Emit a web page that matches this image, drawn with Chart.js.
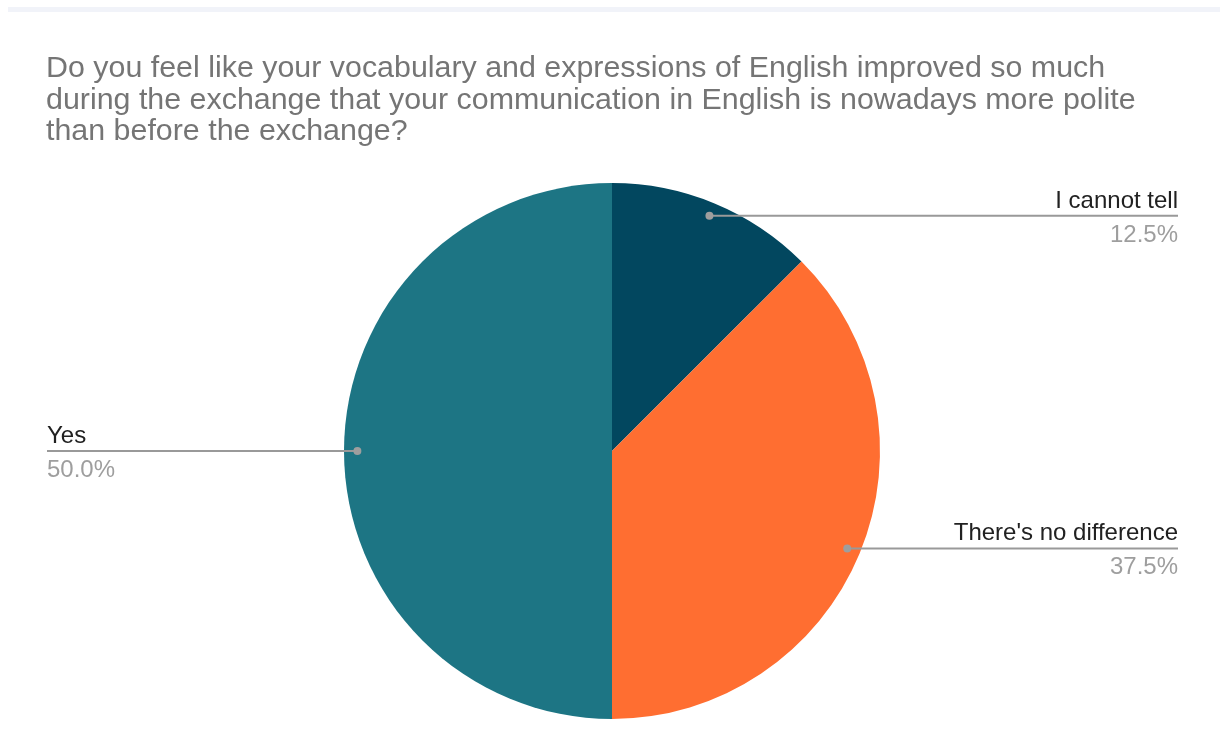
<!DOCTYPE html>
<html>
<head>
<meta charset="utf-8">
<script src="https://cdn.jsdelivr.net/npm/chart.js@4/dist/chart.umd.min.js"></script>
<style>
  html, body { margin: 0; padding: 0; background: #fff; }
  canvas { display: block; }
</style>
</head>
<body>
<canvas id="myChart" width="1220" height="754"></canvas>
<script>
// Chart data
const titleLines = [
    'Do you feel like your vocabulary and expressions of English improved so much',
    'during the exchange that your communication in English is nowadays more polite',
    'than before the exchange?'
]
const labels = ['I cannot tell', "There's no difference", 'Yes']
const values = [12.5, 37.5, 50.0]
const colors = ['#02475f', '#ff6e31', '#1d7584']

const FONT = '"Liberation Sans", Arial, sans-serif'

// Title + top band
const titlePlugin = {
    id: 'titleText',
    beforeDraw(chart) {
        const ctx = chart.ctx
        ctx.save()
        ctx.fillStyle = '#f1f3f9'
        ctx.fillRect(8, 7, 1212, 5)
        ctx.fillStyle = '#757575'
        ctx.font = '30.4px ' + FONT
        ctx.textAlign = 'left'
        ctx.textBaseline = 'alphabetic'
        titleLines.forEach((t, i) => ctx.fillText(t, 46, 77 + i * 31.5))
        ctx.restore()
    }
}

// Leader lines with labels
const labelPlugin = {
    id: 'leaderLabels',
    afterDatasetsDraw(chart) {
        const ctx = chart.ctx
        const meta = chart.getDatasetMeta(0)
        const total = values.reduce((a, b) => a + b, 0)
        ctx.save()
        meta.data.forEach((arc, i) => {
            const p = arc.getProps(['x', 'y', 'startAngle', 'endAngle', 'outerRadius'], true)
            const mid = (p.startAngle + p.endAngle) / 2
            const dx = p.x + Math.cos(mid) * p.outerRadius * 0.95
            const dy = p.y + Math.sin(mid) * p.outerRadius * 0.95
            const right = Math.cos(mid) >= 0
            const endX = right ? 1178 : 47

            ctx.strokeStyle = '#999999'
            ctx.lineWidth = 2
            ctx.beginPath()
            ctx.moveTo(dx, dy)
            ctx.lineTo(endX, dy)
            ctx.stroke()

            ctx.fillStyle = '#9e9e9e'
            ctx.beginPath()
            ctx.arc(dx, dy, 4, 0, Math.PI * 2)
            ctx.fill()

            ctx.textAlign = right ? 'right' : 'left'
            ctx.font = '24px ' + FONT
            ctx.fillStyle = '#212121'
            ctx.fillText(labels[i], endX, dy - 8)
            ctx.fillStyle = '#9e9e9e'
            ctx.fillText((values[i] / total * 100).toFixed(1) + '%', endX, dy + 26)
        })
        ctx.restore()
    }
}

const config = {
    type: 'pie',
    data: {
        labels: labels,
        datasets: [{
            data: values,
            backgroundColor: colors,
            borderWidth: 0,
            hoverOffset: 0,
            offset: 0
        }]
    },
    options: {
        responsive: false,
        animation: false,
        devicePixelRatio: 1,
        events: [],
        layout: {
            padding: { top: 183, bottom: 35, left: 4, right: 0 }
        },
        plugins: {
            legend: { display: false },
            tooltip: { enabled: false },
            title: { display: false }
        }
    },
    plugins: [titlePlugin, labelPlugin]
}

const ctx = document.getElementById('myChart').getContext('2d')
new Chart(ctx, config)
</script>
</body>
</html>
